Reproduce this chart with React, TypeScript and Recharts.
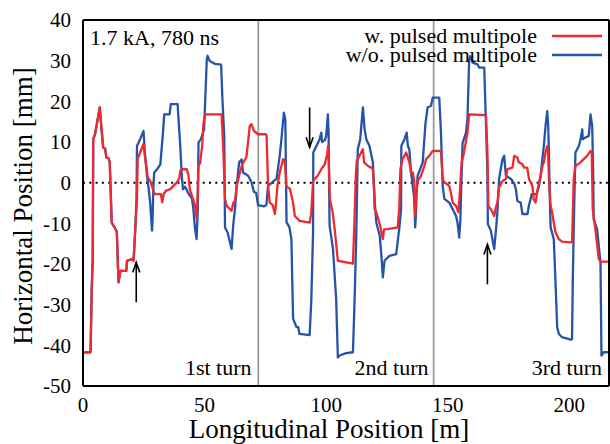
import React from 'react';
import { LineChart, Line, XAxis, YAxis, ReferenceLine } from 'recharts';

// Shared trajectory before the pulsed multipole (identical for both cases)
const sharedPath: number[][] = [
  [0, -41.7], [3.1, -41.7], [3.6, -26], [4.0, -18.8], [4.2, 10.7], [4.9, 11.8], [5.8, 14.8], [6.9, 18.5],
  [7.5, 14], [8.3, 8.6], [9.1, 8.4], [9.6, 6.2], [10.5, 6], [11.0, 5], [11.8, -9.8], [13.9, -12],
  [14.6, -24.5], [15.4, -21.7], [17.8, -21.7], [18.1, -19.2], [20.2, -18.8], [20.8, -19.2], [21.5, -11.4],
];

// With pulsed multipole (red)
const withPulsedTail: number[][] = [
  [22.2, -4], [22.5, 5.8], [23.2, 7], [24.9, 9.5], [25.4, 6.7], [26.3, 2.9], [26.6, 1.3], [27.7, 0.4],
  [28.3, -0.8], [29.0, -2], [29.5, -2.8], [32.0, -2.8], [32.6, -4.8], [33.2, -2.8], [34.0, -2], [35.9, -1.6],
  [37.2, -0.8], [38.5, 0], [39.6, 1], [40.0, 2.9], [40.6, 3.3], [42.7, 3.3], [43.4, 1.7], [43.9, -1.6],
  [45.2, -4], [46.1, -5.7], [46.8, -9], [47.5, 4.1], [48.2, 5], [49.0, 9], [49.5, 14.4], [50.2, 16.8],
  [57.0, 16.8], [57.7, 8.2], [58.4, -4], [59.1, -5.7], [61.1, -6.9], [61.8, -5], [62.5, -4.5], [63.2, -0.8],
  [64.5, 2.5], [65.5, 4.5], [67.2, 6.3], [68.6, 14], [69.3, 14.4], [70.3, 12.7], [72.0, 11.9], [75.2, 11.9],
  [75.5, 11.5], [76.1, -0.8], [76.8, -4.9], [78.0, -5.5], [78.9, -7.7], [79.4, -5], [80.0, -0.5], [80.9, 2.5],
  [82.3, 5.8], [82.9, 5.5], [83.7, -1], [85.1, -1.5], [86.4, -5], [87.1, -8.2], [89.1, -9.4], [93.2, -9.8],
  [93.9, -7.3], [94.6, 0.4], [96.5, 1.7], [98.0, 3.3], [99.4, 4.5], [100.4, 7], [100.8, 9], [101.2, 3],
  [101.5, -4], [102.6, -7], [103.5, -11.4], [104.8, -19.2], [111.0, -19.9], [111.6, -10], [112.2, 2], [112.6, 5.5],
  [113.7, 6.6], [115.1, 8.2], [115.6, 5], [117.2, 4.1], [118.5, 3.7], [119.2, 3.3], [119.7, -2], [119.9, -6.5],
  [120.5, -7], [122.2, -10.6], [123.3, -13.9], [123.8, -11.5], [125.2, -11.4], [129.4, -11], [130.1, -5.7], [130.5, 3.3],
  [131.4, 5.8], [132.9, 7.4], [134.2, 5], [134.9, 2.5], [135.6, 2.5], [136.2, 0.4], [136.4, -4], [136.6, -8.2],
  [137.0, -3], [137.6, 0.4], [139.0, 1.7], [140.4, 4.1], [141.1, 5.8], [142.4, 6.6], [143.8, 7.8], [147.2, 7.8],
  [147.9, 0.9], [148.6, 0.1], [150.6, -0.8], [151.3, -2.5], [152.0, -4.9], [153.4, -5.7], [154.4, -7.3], [155.0, -2],
  [155.7, 5], [156.4, 6.6], [158.1, 12.3], [158.8, 16.8], [165.7, 16.6], [166.3, 7.4], [166.7, -5.7], [167.7, -6.5],
  [169.1, -8.2], [169.8, -6], [170.4, -4.9], [171.1, -1.2], [172.5, 0.4], [173.9, 0.9], [174.5, 3.3], [176.6, 3.7],
  [177.3, 6.6], [178.6, 6.2], [179.2, 5], [180.7, 4.5], [181.4, 3.7], [182.7, 3.7], [183.4, 0.9], [184.8, -0.8],
  [185.3, -4], [186.1, -4.9], [186.6, -3], [187.5, 0.1], [188.2, 1.7], [188.9, 4.1], [189.5, 5], [190.2, 7.4],
  [190.9, 9], [191.2, 8.5], [191.6, 0.9], [192.3, -5.7], [192.9, -7.3], [193.6, -9.8], [194.3, -12.2], [195.7, -13.9],
  [197.0, -14.5], [200.5, -14.7], [201.1, -14.5], [201.4, -8], [201.8, 0.9], [202.5, 4.1], [204.6, 5], [205.9, 5.8],
  [207.3, 6.6], [208.7, 7.8], [209.2, 7.5], [209.6, -6.5], [210.7, -11.4], [212.1, -18.8], [212.8, -19.4], [216.3, -19.4],
];

// Without pulsed multipole (blue)
const withoutPulsedTail: number[][] = [
  [22.0, -4], [22.2, 9], [23.5, 10.7], [24.9, 12.7], [25.4, 7.7], [26.3, 1.7], [26.6, 0.4], [27.0, -1.5],
  [27.6, -4.8], [28.4, -11.8], [28.6, -9], [29.0, 0], [29.3, 2.5], [30.5, 3.3], [31.8, 4.5], [32.9, 12.3],
  [33.4, 16.8], [35.6, 16.8], [36.1, 19.3], [38.9, 19.3], [40.0, 9], [40.6, 1.8], [41.1, -1.6], [42.0, -1],
  [43.4, -2.7], [44.8, -3.9], [45.4, -6.5], [46.0, -11], [46.7, -13.9], [47.2, -7], [47.5, 9.9], [48.5, 10.7],
  [49.8, 13.1], [50.9, 30.3], [51.2, 31.2], [52.0, 30], [54.3, 29.2], [56.8, 29], [57.3, 21], [58.1, 11.2],
  [58.4, -11], [59.5, -12.3], [61.1, -16.3], [61.8, -10.2], [62.5, -6.5], [63.2, -0.8], [64.2, 5], [65.2, 5.7],
  [65.8, 2.5], [67.9, 1.7], [69.3, 0.1], [70.3, -2.3], [71.2, -2.5], [72.0, -5.5], [74.5, -5.8], [75.4, -5.5],
  [76.1, -0.8], [79.6, 1.0], [80.9, 6.6], [81.6, 10.7], [82.6, 17.2], [83.2, 15.5], [83.7, -9.7], [84.9, -11],
  [85.7, -13.9], [86.4, -33.5], [87.8, -35.5], [88.5, -35.5], [89.0, -37.2], [93.2, -37.5], [93.9, -28.6], [94.6, -12.2],
  [94.7, 7.4], [96.0, 9], [97.3, 10.7], [98.0, 12.3], [98.3, 10], [99.5, 10.5], [100.0, 11.5], [100.7, 16.8],
  [101.0, 12], [101.2, -1], [101.4, -10.6], [102.8, -16.3], [104.1, -28.6], [104.8, -43], [105.5, -42.5], [108.2, -41.9],
  [111.0, -41.7], [111.7, -28.6], [112.4, -12.2], [113.0, 8.2], [114.0, 10.7], [115.1, 18.5], [115.8, 13.1], [116.5, 10.7],
  [117.8, 9], [119.2, 5], [120.0, -5], [120.6, -9.8], [122.0, -13], [122.6, -17.1], [123.3, -23.3], [124.0, -19.2],
  [126.0, -18], [128.8, -17.6], [130.1, -11], [130.8, -6.5], [130.9, 9], [132.2, 10.7], [133.1, 12.3], [133.6, 9],
  [134.2, 8.2], [134.9, 2.5], [135.6, -0.8], [136.2, -4], [136.6, -11], [136.9, -8], [137.3, -1], [137.6, 1.7],
  [139.7, 5], [140.8, 14.4], [141.7, 18.5], [143.1, 18.9], [143.8, 20.9], [146.5, 20.9], [147.2, 12.3], [147.9, -0.8],
  [148.6, -4], [150.6, -4.9], [152.0, -6.5], [153.4, -8.2], [154.0, -9.8], [154.7, -13.5], [155.2, -9], [155.5, -2],
  [156.1, 9.8], [157.5, 12.3], [158.1, 15.6], [158.8, 30.3], [159.2, 31.1], [160.2, 29.5], [162.2, 29.1], [162.9, 28.3],
  [165.0, 28.3], [165.9, 10.7], [166.3, 2.5], [166.5, -10.2], [167.7, -11.8], [169.1, -16.3], [169.8, -11.8], [170.4, -7.3],
  [171.1, 0.9], [172.5, 5.8], [173.2, 6.6], [173.9, 1.7], [176.0, 0.9], [177.3, -0.2], [178.0, -1.6], [178.6, -4.5],
  [180.0, -4.9], [180.7, -7.7], [182.8, -7.7], [183.4, -5.5], [184.1, -4], [184.5, -2.8], [186.5, -2.8], [187.5, -0.8],
  [188.2, 1.7], [188.9, 5.8], [189.5, 9], [190.2, 13.9], [190.9, 17.6], [191.3, 14], [191.6, 7.4], [192.0, -5],
  [192.3, -11], [193.6, -13.9], [194.3, -24.5], [195.0, -35.6], [195.7, -37.2], [197.0, -38], [200.5, -38.6], [201.1, -38.5],
  [201.4, -24.5], [201.8, -11], [202.2, 0], [202.5, 7.4], [203.9, 9], [204.6, 10.7], [205.3, 13.1], [205.5, 10.7],
  [206.6, 11.1], [208.0, 11.5], [208.7, 16.8], [209.4, 13.9], [209.8, 2], [210.0, -9], [211.4, -11.4], [212.8, -19.6],
  [213.2, -42.5], [214.1, -41.7], [216.3, -41.7],
];

const xTicks = [0, 50, 100, 150, 200];
const yTicks = [-50, -40, -30, -20, -10, 0, 10, 20, 30, 40];
const xDomain = [0, 216.3];
const yDomain = [-50, 40];
const turnBoundaries = [72.1, 144.2];
const turnLabels = ['1st turn', '2nd turn', '3rd turn'];
const arrowX = [21.9, 93.2, 166.3];
const arrowTail = [-29.4, 18.5, -25];
const arrowHead = [-19.6, 8.7, -15.2];
const seriesNames = ['w. pulsed multipole', 'w/o. pulsed multipole'];
const annotation = '1.7 kA, 780 ns';

const RED = '#ec2a30';
const BLUE = '#2553a9';
const FONT = "'Liberation Serif', Tinos, 'Times New Roman', Times, serif";

const toRows = (pts: number[][]) => pts.map(([x, y]) => ({ x, y }));
const redData = toRows([...sharedPath, ...withPulsedTail]);
const blueData = toRows([...sharedPath, ...withoutPulsedTail]);

const ArrowShape = (p: any) => {
  const { x1, y1, x2, y2 } = p;
  const dir = y2 > y1 ? 1 : -1;
  return (
    <g>
      <line x1={x1} y1={y1} x2={x2} y2={y2} stroke="#000" strokeWidth={1.6} />
      <path d={`M${x2 - 3.5},${y2 - dir * 10} L${x2},${y2} L${x2 + 3.5},${y2 - dir * 10}`} fill="none" stroke="#000" strokeWidth={1.6} />
    </g>
  );
};

export default function App() {
  const W = 610;
  const H = 444;
  const tickFont = { fontSize: 21, fill: '#000', fontFamily: FONT };
  return (
    <div style={{ position: 'absolute', left: 0, top: 0, width: W, height: H, background: '#fff' }}>
      <LineChart width={W} height={H} margin={{ top: 20, right: 1, bottom: 0, left: 0 }}>
        <XAxis xAxisId="b" dataKey="x" type="number" domain={xDomain} ticks={xTicks} allowDataOverflow
          height={58} tickLine={false} tickSize={0} tickMargin={11} tick={tickFont}
          axisLine={{ stroke: '#000', strokeWidth: 2 }} />
        <XAxis xAxisId="bm" dataKey="x" type="number" domain={xDomain} ticks={xTicks} allowDataOverflow
          mirror tick={false} tickSize={7} tickLine={{ stroke: '#000', strokeWidth: 2 }} axisLine={false} />
        <XAxis xAxisId="t" orientation="top" dataKey="x" type="number" domain={xDomain} ticks={xTicks} allowDataOverflow
          mirror tick={false} tickSize={7} tickLine={{ stroke: '#000', strokeWidth: 2 }}
          axisLine={{ stroke: '#000', strokeWidth: 2 }} />
        <YAxis yAxisId="l" type="number" domain={yDomain} ticks={yTicks} allowDataOverflow width={83}
          tickLine={false} tickSize={0} tickMargin={12} tick={tickFont}
          axisLine={{ stroke: '#000', strokeWidth: 2 }} />
        <YAxis yAxisId="lm" type="number" domain={yDomain} ticks={yTicks} allowDataOverflow
          mirror tick={false} tickSize={7} tickLine={{ stroke: '#000', strokeWidth: 2 }} axisLine={false} />
        <YAxis yAxisId="r" orientation="right" type="number" domain={yDomain} ticks={yTicks} allowDataOverflow
          mirror tick={false} tickSize={7} tickLine={{ stroke: '#000', strokeWidth: 2 }}
          axisLine={{ stroke: '#000', strokeWidth: 2 }} />

        {turnBoundaries.map((b) => (
          <ReferenceLine key={b} xAxisId="b" yAxisId="l" x={b} stroke="#9a9a9a" strokeWidth={1.8} />
        ))}
        <ReferenceLine xAxisId="b" yAxisId="l" y={0} stroke="#000" strokeWidth={2} strokeDasharray="2 4.3" />

        <Line xAxisId="b" yAxisId="l" data={blueData} dataKey="y" stroke={BLUE} strokeWidth={2.3}
          dot={false} activeDot={false} isAnimationActive={false} strokeLinejoin="round" />
        <Line xAxisId="b" yAxisId="l" data={redData} dataKey="y" stroke={RED} strokeWidth={2.3}
          dot={false} activeDot={false} isAnimationActive={false} strokeLinejoin="round" />

        {arrowX.map((ax, i) => (
          <ReferenceLine key={'a' + i} xAxisId="b" yAxisId="l"
            segment={[{ x: ax, y: arrowTail[i] }, { x: ax, y: arrowHead[i] }]}
            shape={ArrowShape} />
        ))}
      </LineChart>
      <svg width={W} height={H} style={{ position: 'absolute', left: 0, top: 0, pointerEvents: 'none' }}>
        <g fill="#000" fontFamily={FONT}>
          <text x={90} y={45} fontSize={22}>{annotation}</text>
          <text x={537} y={43} fontSize={22} textAnchor="end">{seriesNames[0]}</text>
          <text x={537} y={62} fontSize={22} textAnchor="end">{seriesNames[1]}</text>
          <line x1={552} y1={36} x2={602} y2={36} stroke={RED} strokeWidth={2.3} />
          <line x1={552} y1={55} x2={602} y2={55} stroke={BLUE} strokeWidth={2.3} />
          <text x={251.5} y={375} fontSize={22} textAnchor="end">{turnLabels[0]}</text>
          <text x={428.5} y={375} fontSize={22} textAnchor="end">{turnLabels[1]}</text>
          <text x={602} y={375} fontSize={22} textAnchor="end">{turnLabels[2]}</text>
          <text x={329} y={438} fontSize={27} textAnchor="middle">Longitudinal Position [m]</text>
          <text x={32} y={206} fontSize={27} textAnchor="middle" transform="rotate(-90 32 206)">Horizontal Position [mm]</text>
        </g>
      </svg>
    </div>
  );
}
